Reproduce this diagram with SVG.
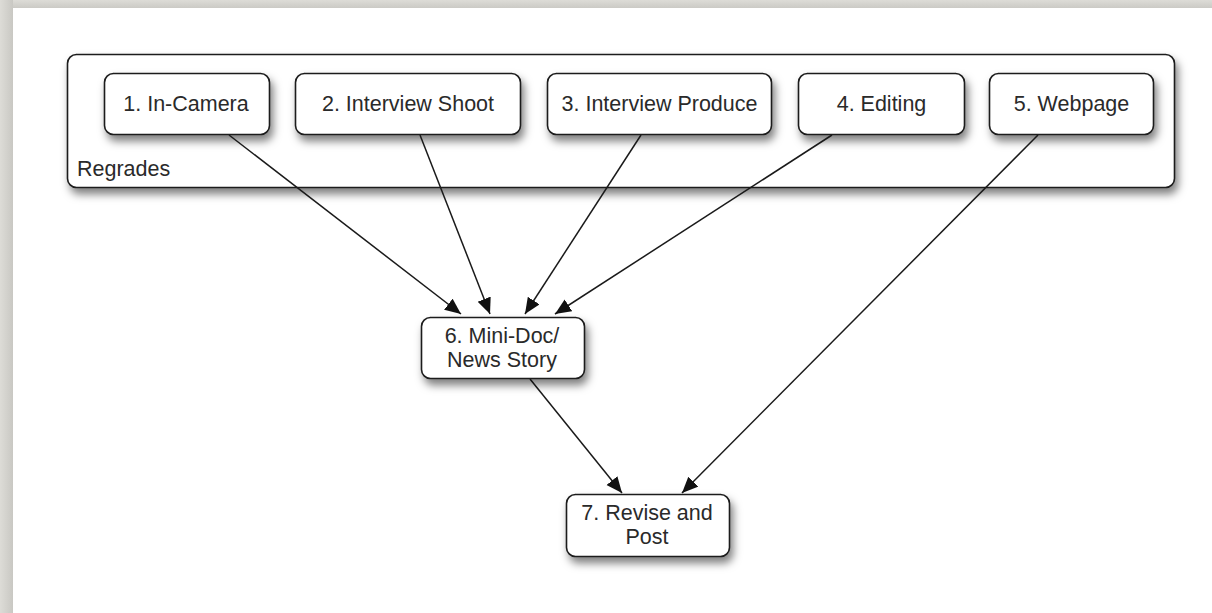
<svg xmlns="http://www.w3.org/2000/svg" width="1212" height="613" viewBox="0 0 1212 613">
<defs>
<style>
.box{fill:#fff;stroke:#1a1a1a;stroke-width:1.6;filter:url(#sh)}
.lbl{font-family:"Liberation Sans",Arial,sans-serif;font-size:21.5px;fill:#2a2a2a;text-anchor:middle}
.edge{stroke:#1a1a1a;stroke-width:1.5;fill:none;marker-end:url(#ah)}
</style>
<filter id="sh" x="-20%" y="-30%" width="140%" height="180%">
<feDropShadow dx="3" dy="6" stdDeviation="4.5" flood-color="#000" flood-opacity="0.5"/>
</filter>
<linearGradient id="bgL" x1="0" x2="1" y1="0" y2="0">
<stop offset="0" stop-color="#dddcd7"/>
<stop offset="1" stop-color="#c9c8c3"/>
</linearGradient>
<linearGradient id="bgT" x1="0" x2="0" y1="0" y2="1">
<stop offset="0" stop-color="#dddcd7"/>
<stop offset="1" stop-color="#cbcac5"/>
</linearGradient>
<marker id="ah" markerUnits="userSpaceOnUse" markerWidth="17" markerHeight="15" refX="16" refY="7" orient="auto">
<path d="M0,0 L16,7 L0,14 z" fill="#111"/>
</marker>
</defs>
<rect x="0" y="0" width="1212" height="613" fill="#d9d8d3"/>
<rect x="0" y="0" width="1212" height="8" fill="url(#bgT)"/>
<rect x="0" y="0" width="13" height="613" fill="url(#bgL)"/>
<rect x="13" y="8" width="1199" height="605" fill="#fff"/>

<g id="regrades">
<rect class="box" x="67.5" y="54.5" width="1107" height="133" rx="9"/>
<text x="77" y="176" style="font-family:'Liberation Sans',Arial,sans-serif;font-size:21.5px;fill:#2a2a2a">Regrades</text>
</g>

<g id="n1"><rect class="box" x="104.5" y="73.5" width="165" height="61" rx="9"/><text class="lbl" x="186" y="111">1. In-Camera</text></g>
<g id="n2"><rect class="box" x="295.5" y="73.5" width="225" height="61" rx="9"/><text class="lbl" x="408" y="111">2. Interview Shoot</text></g>
<g id="n3"><rect class="box" x="547.5" y="73.5" width="224" height="61" rx="9"/><text class="lbl" x="659.5" y="111">3. Interview Produce</text></g>
<g id="n4"><rect class="box" x="798.5" y="73.5" width="166" height="61" rx="9"/><text class="lbl" x="881.5" y="111">4. Editing</text></g>
<g id="n5"><rect class="box" x="989.5" y="73.5" width="164" height="61" rx="9"/><text class="lbl" x="1071.5" y="111">5. Webpage</text></g>

<g id="connectors">
<line class="edge" x1="229" y1="135" x2="461" y2="314"/>
<line class="edge" x1="420" y1="135" x2="490" y2="314"/>
<line class="edge" x1="641" y1="135" x2="525" y2="314"/>
<line class="edge" x1="832" y1="135" x2="555" y2="314"/>
<line class="edge" x1="1038" y1="135" x2="682" y2="493"/>
<line class="edge" x1="530" y1="379" x2="622" y2="493"/>
</g>

<g id="n6"><rect class="box" x="421.5" y="317.5" width="163" height="61" rx="9"/><text class="lbl" x="502" y="343">6. Mini-Doc/</text><text class="lbl" x="502" y="367">News Story</text></g>
<g id="n7"><rect class="box" x="566.5" y="494.5" width="163" height="62" rx="9"/><text class="lbl" x="647" y="520">7. Revise and</text><text class="lbl" x="647" y="544">Post</text></g>
</svg>
